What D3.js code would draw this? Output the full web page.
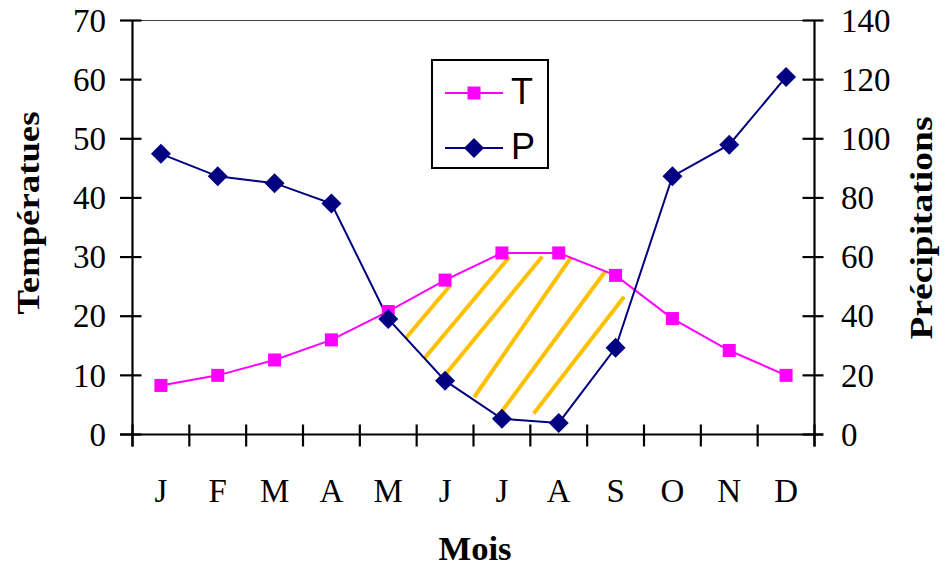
<!DOCTYPE html>
<html><head><meta charset="utf-8">
<script src="https://cdn.jsdelivr.net/npm/d3@7"></script>
<style>body{margin:0;background:#fff}svg{display:block}</style>
</head><body>
<svg id="c" width="949" height="568"></svg>
<script>
const months = ["J","F","M","A","M","J","J","A","S","O","N","D"];
const temperature = [8.3, 10.0, 12.6, 16.0, 20.8, 26.1, 30.7, 30.7, 26.9, 19.6, 14.2, 10.0];
const precipitation = [94.9, 87.3, 85.0, 78.1, 39.1, 18.2, 5.3, 3.9, 29.3, 87.3, 98.0, 120.9];
const leftTicks = [0,10,20,30,40,50,60,70];
const rightTicks = [0,20,40,60,80,100,120,140];
// hatch segments in data units: [monthIndexStart, tempStart, monthIndexEnd, tempEnd]
const hatch = [
  [4.30,16.2,5.09,25.2],
  [4.63,12.8,6.13,30.0],
  [4.98,9.85,6.71,30.1],
  [5.51,6.3,7.22,30.0],
  [5.96,3.4,7.82,27.6],
  [6.56,3.55,8.15,23.3]
];

const svg = d3.select("#c");
const L = 132.5, R = 814.5, T = 20.5, B = 434.5;
const x = d3.scaleBand().domain(d3.range(12)).range([L, R]).padding(0);
const xc = i => x(i) + x.bandwidth()/2;
const xi = v => L + x.bandwidth()*(v+0.5);
const yL = d3.scaleLinear().domain([0,70]).range([B, T]);
const yR = d3.scaleLinear().domain([0,140]).range([B, T]);
const serif = "'Liberation Serif','Times New Roman',serif";
const sans = "'Liberation Sans',Arial,sans-serif";

// top border
svg.append("line").attr("x1",120).attr("x2",823).attr("y1",T).attr("y2",T)
  .attr("stroke","#444").attr("stroke-width",1.2);

// left axis
const gl = svg.append("g");
gl.append("line").attr("x1",L).attr("x2",L).attr("y1",T).attr("y2",B+12).attr("stroke","#000").attr("stroke-width",2.2);
leftTicks.forEach(t=>{
  gl.append("line").attr("x1",L-12.5).attr("x2",L+9).attr("y1",yL(t)).attr("y2",yL(t)).attr("stroke","#000").attr("stroke-width",2.2);
  gl.append("text").attr("x",106).attr("y",yL(t)).attr("dy","0.34em").attr("text-anchor","end")
    .attr("font-family",serif).attr("font-size",33).text(t);
});
// right axis
const gr = svg.append("g");
gr.append("line").attr("x1",R).attr("x2",R).attr("y1",T).attr("y2",B+12).attr("stroke","#000").attr("stroke-width",2.2);
rightTicks.forEach(t=>{
  gr.append("line").attr("x1",R-12).attr("x2",R+9).attr("y1",yR(t)).attr("y2",yR(t)).attr("stroke","#000").attr("stroke-width",2.2);
  gr.append("text").attr("x",841).attr("y",yR(t)).attr("dy","0.34em").attr("text-anchor","start")
    .attr("font-family",serif).attr("font-size",33).text(t);
});
// x axis
const gx = svg.append("g");
gx.append("line").attr("x1",120).attr("x2",823).attr("y1",B).attr("y2",B).attr("stroke","#000").attr("stroke-width",2.2);
d3.range(13).forEach(i=>{
  const px = L + x.bandwidth()*i;
  gx.append("line").attr("x1",px).attr("x2",px).attr("y1",B-10).attr("y2",B+12).attr("stroke","#000").attr("stroke-width",2.2);
});
months.forEach((m,i)=>{
  gx.append("text").attr("x",xc(i)).attr("y",502).attr("text-anchor","middle")
    .attr("font-family",serif).attr("font-size",33).text(m);
});

// titles
svg.append("text").attr("transform","translate(39,213) rotate(-90)").attr("text-anchor","middle")
  .attr("font-family",serif).attr("font-weight","bold").attr("font-size",31)
  .attr("textLength",203).attr("lengthAdjust","spacingAndGlyphs").text("Températues");
svg.append("text").attr("transform","translate(932,228) rotate(-90)").attr("text-anchor","middle")
  .attr("font-family",serif).attr("font-weight","bold").attr("font-size",31)
  .attr("textLength",223).attr("lengthAdjust","spacingAndGlyphs").text("Précipitations");
svg.append("text").attr("x",475).attr("y",560).attr("text-anchor","middle")
  .attr("font-family",serif).attr("font-weight","bold").attr("font-size",33)
  .attr("textLength",73).attr("lengthAdjust","spacingAndGlyphs").text("Mois");

// hatch
svg.append("g").selectAll("line").data(hatch).join("line")
  .attr("x1",d=>xi(d[0])).attr("y1",d=>yL(d[1])).attr("x2",d=>xi(d[2])).attr("y2",d=>yL(d[3]))
  .attr("stroke","#FFC000").attr("stroke-width",4);

// lines
const lineT = d3.line().x((d,i)=>xc(i)).y(d=>yL(d));
const lineP = d3.line().x((d,i)=>xc(i)).y(d=>yR(d));
svg.append("path").attr("d",lineT(temperature)).attr("fill","none").attr("stroke","#FF00FF").attr("stroke-width",2);
svg.append("path").attr("d",lineP(precipitation)).attr("fill","none").attr("stroke","#000080").attr("stroke-width",2);
const sq = 13, dm = 10;
svg.append("g").selectAll("rect").data(temperature).join("rect")
  .attr("x",(d,i)=>xc(i)-sq/2).attr("y",d=>yL(d)-sq/2).attr("width",sq).attr("height",sq).attr("fill","#FF00FF");
svg.append("g").selectAll("path").data(precipitation).join("path")
  .attr("d",(d,i)=>{const cx=xc(i),cy=yR(d);return `M${cx},${cy-dm}L${cx+dm},${cy}L${cx},${cy+dm}L${cx-dm},${cy}Z`;})
  .attr("fill","#000080");

// legend
const lg = svg.append("g");
lg.append("rect").attr("x",432).attr("y",60).attr("width",116).attr("height",108).attr("fill","#fff").attr("stroke","#000").attr("stroke-width",2);
lg.append("line").attr("x1",445).attr("x2",503).attr("y1",93).attr("y2",93).attr("stroke","#FF00FF").attr("stroke-width",2);
lg.append("rect").attr("x",474-sq/2).attr("y",93-sq/2).attr("width",sq).attr("height",sq).attr("fill","#FF00FF");
lg.append("text").attr("x",511).attr("y",104).attr("font-family",sans).attr("font-size",36).text("T");
lg.append("line").attr("x1",445).attr("x2",503).attr("y1",148).attr("y2",148).attr("stroke","#000080").attr("stroke-width",2);
lg.append("path").attr("d",`M474,${148-dm}L${474+dm},148L474,${148+dm}L${474-dm},148Z`).attr("fill","#000080");
lg.append("text").attr("x",511).attr("y",159).attr("font-family",sans).attr("font-size",36).text("P");
</script>
</body></html>
